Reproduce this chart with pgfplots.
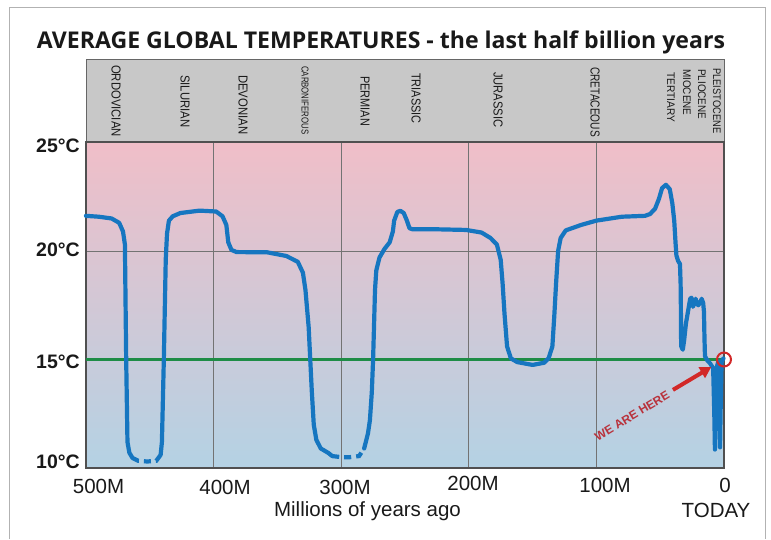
\documentclass[border=0pt]{standalone}
\usepackage{fontspec}
\setmainfont{Liberation Sans}
\newfontfamily\titlefont{Open Sans}
\usepackage{pgfplots}
\pgfplotsset{compat=1.18}
\usetikzlibrary{arrows.meta}
\definecolor{curve}{RGB}{22,118,192}
\definecolor{greenl}{RGB}{30,140,70}
\definecolor{bandgray}{RGB}{200,200,200}
\definecolor{bgtop}{RGB}{240,190,200}
\definecolor{bgmid}{RGB}{212,200,215}
\definecolor{bgbot}{RGB}{180,210,228}
\definecolor{framec}{RGB}{80,80,80}
\definecolor{gridc}{RGB}{115,115,115}
\definecolor{redarrow}{RGB}{210,40,40}
\definecolor{redtext}{RGB}{185,50,60}
\definecolor{txt}{RGB}{25,25,25}
\newcommand{\per}[2]{\scalebox{#1}[1]{#2}}
\begin{document}
\begin{tikzpicture}[x=1pt,y=1pt]
\useasboundingbox (0,0) rectangle (771,539);
\draw[gray!60,line width=1pt] (9,0)--(9,531)--(765,531)--(765,0);
\fill[bandgray,draw=gray!80!black,line width=0.8pt] (86,397) rectangle (724,480);
% title
\node[anchor=base,inner sep=0,text=txt] at (381,490) {\resizebox{688pt}{!}{\titlefont\bfseries AVERAGE GLOBAL TEMPERATURES - the last half billion years}};
% period labels
\begin{scope}[every node/.style={rotate=-90,anchor=west,inner sep=0,text=txt,font=\fontsize{13}{14}\selectfont}]
\node at (116,539-65) {\per{0.87}{ORDOVICIAN}};
\node at (185,539-75) {\per{0.87}{SILURIAN}};
\node at (243,539-75) {\per{0.87}{DEVONIAN}};
\node[font=\fontsize{10}{11}\selectfont] at (305,539-66) {\per{0.78}{CARBONIFEROUS}};
\node at (365,539-76) {\per{0.84}{PERMIAN}};
\node at (416,539-73) {\per{0.84}{TRIASSIC}};
\node at (498,539-72) {\per{0.86}{JURASSIC}};
\node at (595,539-67) {\per{0.78}{CRETACEOUS}};
\node[font=\fontsize{11}{12}\selectfont] at (671,539-72) {\per{0.92}{TERTIARY}};
\node[font=\fontsize{11}{12}\selectfont] at (687,539-69) {\per{0.9}{MIOCENE}};
\node[font=\fontsize{11}{12}\selectfont] at (702,539-69) {\per{0.9}{PLIOCENE}};
\node[font=\fontsize{11}{12}\selectfont] at (717,539-68) {\per{0.85}{PLEISTOCENE}};
\end{scope}
% x labels
\begin{scope}[every node/.style={anchor=base,inner sep=0,text=txt,font=\fontsize{20.5}{24}\selectfont}]
\node at (98.5,539-493) {500M};
\node at (225,539-494) {400M};
\node at (345,539-494) {300M};
\node at (473,539-490) {200M};
\node at (605,539-492) {100M};
\node at (725,539-492) {0};
\node at (367.5,539-516) {Millions of years ago};
\node at (716,539-517) {TODAY};
\end{scope}
% y labels
\begin{scope}[every node/.style={anchor=base east,inner sep=0,text=txt,font=\fontsize{19.5}{22}\selectfont\bfseries}]
\node at (80,539-153) {25°C};
\node at (80,539-256.5) {20°C};
\node at (80,539-368) {15°C};
\node at (80,539-468) {10°C};
\end{scope}
\begin{axis}[at={(86pt,71pt)},anchor=south west,scale only axis,
  width=638pt,height=325.5pt,
  xmin=0,xmax=500,ymin=10,ymax=25,x dir=reverse,
  xtick={0,100,200,300,400,500},ytick={10,15,20,25},
  xticklabels={},yticklabels={},
  major tick length=0pt,
  grid=major,major grid style={gridc,line width=0.8pt},
  axis line style={framec,line width=2pt},
  axis background/.style={shade,top color=bgtop,middle color=bgmid,bottom color=bgbot},
  clip=false]
\addplot[greenl,line width=2.2pt] coordinates {(500,15) (0,15)};
\addplot[curve,line width=4.2pt,line join=round,line cap=round] coordinates {
(500,21.62) (490,21.58) (480,21.5) (474,21.3) (471,20.9) (469.5,20.3) (468.5,15) (467.5,11.2) (466,10.7) (463.5,10.46)};
\addplot[curve,line width=4.2pt,dash pattern=on 7pt off 5pt] coordinates {
(463.5,10.46) (459,10.33) (452,10.3) (445,10.33) (441.5,10.6)};
\addplot[curve,line width=4.2pt,line join=round,line cap=round] coordinates {
(441.5,10.6) (440.5,11.2) (439,15) (437.5,19.6) (436.5,20.8) (435,21.4) (432,21.6) (426,21.75) (411,21.86) (398,21.82) (393,21.6) (390,21.2) (388.5,20.4) (386,20.05) (382,19.95) (358,19.94) (343,19.77) (334,19.5) (330,19.0) (328,18.2) (325.5,16.5) (323,13.5) (321.5,12.0) (319.5,11.3) (316,10.9) (310,10.69) (307,10.55)};
\addplot[curve,line width=4.2pt,dash pattern=on 7pt off 5pt] coordinates {
(307,10.55) (300,10.5) (293,10.5) (286,10.55) (282,10.9)};
\addplot[curve,line width=4.2pt,line join=round,line cap=round] coordinates {
(282,10.9) (279,11.6) (277.5,12.2) (276,13.5) (275,15) (273.5,18.2) (272.5,19.1) (270,19.7) (266,20.1) (262,20.4) (259.5,20.9) (258.5,21.4) (256,21.8) (253.6,21.85) (251,21.75) (248.5,21.4) (246.5,21.05) (244,21.0) (225,21.0) (202,20.97) (190,20.85) (183,20.6) (178,20.3) (175,19.6) (173.5,18.5) (172,17.1) (170,15.6) (167,15.05) (162,14.88) (150,14.75) (141,14.85) (137.5,15.05) (134.5,15.6) (133,17) (131.5,18.6) (130,20.0) (128,20.6) (124,20.95) (112,21.2) (100,21.4) (80,21.58) (62,21.62) (58,21.7) (54,21.95) (51,22.4) (48.5,22.9) (45.5,23.05) (42.5,22.85) (40.5,22.2) (39,21.4) (38,20.4) (37.3,19.8) (36,19.55) (34.5,19.4) (34,18.5) (33.8,17.5) (33.7,16.2) (33.5,15.6) (32.3,15.45) (31.2,15.9) (29.8,16.67) (28,17.28) (26.5,17.8) (25.5,17.85) (24.3,17.43) (23.2,17.6) (22.2,17.8) (21,17.55) (20.2,17.5) (18.8,17.6) (17.5,17.8) (16.3,17.6) (15.7,17.2) (15.3,16) (14.9,15.15) (13,14.95) (11,14.83) (8.5,14.6) (7.6,12.5) (7.1,10.85) (6.5,12.5) (5.9,14.6) (4.5,14.9) (3.8,14.9) (3.4,12.5) (3.1,10.95) (2.6,12.8) (1.9,14.85) (1,15.0) (0.4,15.05)};
\addplot[only marks,mark=o,mark size=7pt,mark options={redarrow,line width=2pt}] coordinates {(0,15)};
\draw[redarrow,line width=4pt,-{Triangle[length=11pt,width=12pt]}] (axis cs:40,13.6) -- (axis cs:10,14.65);
\node[rotate=31,text=redtext,font=\fontsize{12}{13}\selectfont\bfseries,inner sep=0] at (axis cs:72,12.4) {WE ARE HERE};
\end{axis}
\end{tikzpicture}
\end{document}
